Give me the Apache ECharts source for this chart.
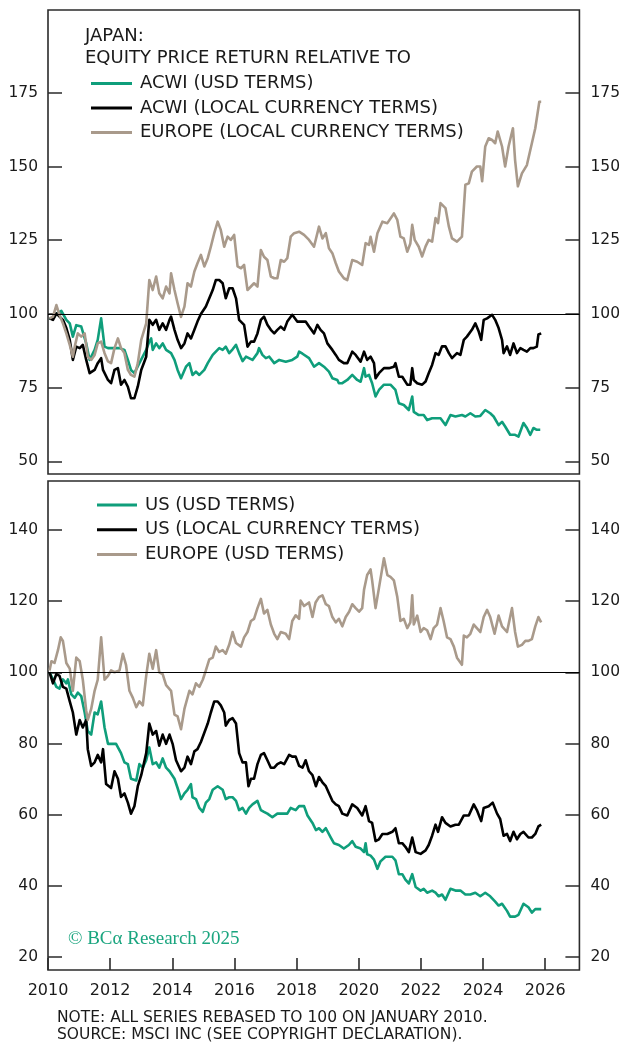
<!DOCTYPE html>
<html>
<head>
<meta charset="utf-8">
<script src="https://cdn.jsdelivr.net/npm/echarts@6/dist/echarts.min.js"></script>
<style>
html,body{margin:0;padding:0;background:#fff;}
#chart{width:623px;height:1044px;}
</style>
</head>
<body>
<div id="chart"></div>
<script>
// ---- tick labels ----
const topTicks = [50, 75, 100, 125, 150, 175];
const bottomTicks = [20, 40, 60, 80, 100, 120, 140];
const yearTicks = [2010, 2012, 2014, 2016, 2018, 2020, 2022, 2024, 2026];

// ---- series names ----
const topNames = ['ACWI (USD TERMS)', 'ACWI (LOCAL CURRENCY TERMS)', 'EUROPE (LOCAL CURRENCY TERMS)'];
const bottomNames = ['US (USD TERMS)', 'US (LOCAL CURRENCY TERMS)', 'EUROPE (USD TERMS)'];

// ---- top panel: Japan relative to ... [year, index] ----
const acwiUsd = [[2010.05,98.5],[2010.16,98.5],[2010.27,100],[2010.43,101],[2010.59,98],[2010.70,96.8],[2010.80,92.3],[2010.91,96.2],[2011.07,95.7],[2011.12,96.2],[2011.23,90.0],[2011.34,84.4],[2011.50,87.8],[2011.60,91.2],[2011.71,98.5],[2011.82,88.9],[2011.93,88.4],[2012.09,88.4],[2012.30,88.4],[2012.46,87.8],[2012.57,84.4],[2012.67,81.0],[2012.78,79.9],[2012.94,83.3],[2013.16,87.8],[2013.26,90.6],[2013.32,91.7],[2013.37,87.8],[2013.48,90.0],[2013.58,88.4],[2013.69,90.0],[2013.80,87.8],[2013.96,86.7],[2014.07,84.4],[2014.17,81.0],[2014.28,78.2],[2014.44,82.1],[2014.55,83.3],[2014.65,79.3],[2014.76,80.4],[2014.87,79.3],[2015.03,81.0],[2015.14,83.3],[2015.30,86.1],[2015.51,88.4],[2015.62,87.8],[2015.72,88.9],[2015.83,86.7],[2015.94,88.0],[2016.05,89.5],[2016.15,86.7],[2016.26,84.0],[2016.37,85.5],[2016.58,84.4],[2016.74,86.7],[2016.79,88.4],[2016.90,86.1],[2017.01,85.0],[2017.12,85.5],[2017.28,83.3],[2017.44,84.4],[2017.65,83.8],[2017.86,84.4],[2018.02,85.5],[2018.08,87.2],[2018.19,86.5],[2018.40,85.0],[2018.56,82.1],[2018.72,83.3],[2018.88,82.1],[2019.04,80.4],[2019.15,78.2],[2019.31,77.6],[2019.36,76.5],[2019.47,76.5],[2019.63,77.6],[2019.79,79.3],[2019.95,77.6],[2020.06,77.0],[2020.17,81.6],[2020.22,78.7],[2020.33,79.3],[2020.43,76.5],[2020.54,72.0],[2020.65,74.2],[2020.81,76.0],[2021.02,76.0],[2021.18,74.2],[2021.29,69.7],[2021.45,69.1],[2021.61,67.4],[2021.72,72.0],[2021.77,66.8],[2021.93,65.7],[2022.09,65.7],[2022.20,64.0],[2022.36,64.6],[2022.52,64.6],[2022.63,64.6],[2022.79,62.3],[2022.95,65.7],[2023.11,65.2],[2023.32,65.7],[2023.43,65.2],[2023.59,66.3],[2023.75,65.2],[2023.91,65.4],[2024.07,67.4],[2024.23,66.3],[2024.34,65.2],[2024.50,62.3],[2024.61,63.4],[2024.71,61.8],[2024.87,59.0],[2025.03,59.0],[2025.14,58.4],[2025.30,63.0],[2025.41,61.3],[2025.52,59.0],[2025.62,61.3],[2025.73,60.7],[2025.84,60.7]];

const acwiLocal = [[2010.05,98.5],[2010.16,98.0],[2010.27,100.2],[2010.37,99.1],[2010.48,98.0],[2010.59,95.2],[2010.70,91.2],[2010.80,84.4],[2010.91,88.9],[2011.02,88.4],[2011.12,89.5],[2011.23,84.4],[2011.34,79.9],[2011.50,81.0],[2011.60,83.3],[2011.71,85.0],[2011.77,81.0],[2011.93,77.6],[2012.03,76.5],[2012.14,81.0],[2012.25,81.6],[2012.35,76.0],[2012.46,77.6],[2012.57,75.3],[2012.67,71.4],[2012.78,71.4],[2012.89,75.4],[2013.00,81.0],[2013.16,85.5],[2013.26,98.0],[2013.37,96.3],[2013.48,98.0],[2013.58,94.6],[2013.69,96.8],[2013.80,94.6],[2013.91,98.0],[2013.96,99.1],[2014.07,94.6],[2014.17,91.2],[2014.28,88.4],[2014.39,90.0],[2014.49,93.4],[2014.60,91.7],[2014.71,94.6],[2014.81,97.4],[2014.92,100.0],[2015.08,102.5],[2015.19,105.3],[2015.30,108.1],[2015.40,111.5],[2015.51,111.5],[2015.62,110.4],[2015.72,105.3],[2015.83,108.7],[2015.94,108.7],[2016.05,105.3],[2016.15,98.0],[2016.31,96.3],[2016.42,88.9],[2016.53,90.6],[2016.63,90.6],[2016.74,93.4],[2016.85,98.0],[2016.95,99.1],[2017.06,96.3],[2017.17,94.6],[2017.28,93.4],[2017.38,94.6],[2017.49,95.7],[2017.60,94.6],[2017.70,97.4],[2017.86,99.7],[2018.02,97.4],[2018.13,97.4],[2018.29,97.4],[2018.40,95.7],[2018.56,93.4],[2018.67,96.3],[2018.77,94.6],[2018.88,93.4],[2018.99,90.0],[2019.15,87.8],[2019.26,86.1],[2019.36,84.4],[2019.52,83.3],[2019.63,83.3],[2019.79,87.2],[2019.90,86.1],[2020.06,83.8],[2020.17,87.2],[2020.27,84.4],[2020.38,85.5],[2020.49,83.3],[2020.54,78.2],[2020.65,79.9],[2020.81,81.6],[2020.97,81.6],[2021.13,82.1],[2021.18,83.3],[2021.29,78.7],[2021.40,78.7],[2021.56,76.0],[2021.66,76.0],[2021.72,81.6],[2021.77,77.6],[2021.88,76.5],[2022.04,76.0],[2022.15,77.1],[2022.25,79.9],[2022.36,82.7],[2022.47,86.7],[2022.57,86.1],[2022.68,89.0],[2022.79,89.0],[2022.90,86.7],[2023.00,85.0],[2023.16,86.7],[2023.27,86.1],[2023.38,91.2],[2023.48,92.3],[2023.64,94.6],[2023.75,96.8],[2023.86,94.0],[2023.94,91.2],[2024.02,98.0],[2024.13,98.5],[2024.29,99.7],[2024.39,98.0],[2024.50,95.2],[2024.61,91.2],[2024.66,86.7],[2024.77,89.0],[2024.87,86.1],[2024.98,90.0],[2025.09,86.7],[2025.20,88.4],[2025.30,87.8],[2025.41,87.2],[2025.52,88.4],[2025.62,88.4],[2025.73,88.9],[2025.78,93.0],[2025.87,93.4]];

const europeLocal = [[2010.05,98.5],[2010.16,99.1],[2010.27,103.0],[2010.37,99.7],[2010.48,96.8],[2010.59,93.4],[2010.70,89.5],[2010.80,85.5],[2010.86,88.9],[2010.96,93.4],[2011.07,92.3],[2011.18,93.4],[2011.28,85.5],[2011.39,84.4],[2011.50,86.1],[2011.60,90.0],[2011.71,90.6],[2011.82,86.7],[2011.93,83.9],[2012.03,83.3],[2012.14,88.4],[2012.25,91.7],[2012.35,88.4],[2012.46,86.7],[2012.57,81.0],[2012.67,79.3],[2012.78,78.7],[2012.89,83.3],[2013.00,91.2],[2013.16,96.8],[2013.26,111.5],[2013.37,108.1],[2013.48,112.7],[2013.58,107.0],[2013.69,105.3],[2013.80,109.3],[2013.91,107.0],[2013.96,113.8],[2014.07,108.1],[2014.17,103.6],[2014.28,99.0],[2014.39,102.5],[2014.49,110.4],[2014.60,109.3],[2014.71,114.4],[2014.81,117.2],[2014.92,120.0],[2015.03,116.1],[2015.14,118.9],[2015.24,122.8],[2015.35,127.4],[2015.46,131.3],[2015.56,128.5],[2015.67,122.8],[2015.78,126.2],[2015.88,125.1],[2015.99,126.8],[2016.10,116.1],[2016.21,115.5],[2016.31,116.6],[2016.42,108.1],[2016.53,109.3],[2016.63,110.4],[2016.74,109.3],[2016.85,121.7],[2016.95,119.4],[2017.06,118.3],[2017.17,112.7],[2017.28,112.1],[2017.38,112.1],[2017.49,118.3],[2017.60,117.7],[2017.70,118.9],[2017.81,126.2],[2017.92,127.4],[2018.08,127.9],[2018.24,126.8],[2018.40,125.1],[2018.56,122.8],[2018.72,129.6],[2018.83,125.6],[2018.94,127.4],[2019.04,122.3],[2019.15,120.6],[2019.26,117.2],[2019.36,114.4],[2019.52,112.1],[2019.63,111.5],[2019.79,118.3],[2019.95,117.7],[2020.11,116.6],[2020.22,124.0],[2020.33,123.4],[2020.38,126.2],[2020.49,121.1],[2020.60,127.4],[2020.76,131.3],[2020.92,130.8],[2021.13,134.1],[2021.24,131.9],[2021.34,126.2],[2021.45,125.6],[2021.56,121.1],[2021.66,123.9],[2021.72,130.2],[2021.80,125.1],[2021.93,122.8],[2022.04,119.5],[2022.15,122.9],[2022.25,125.1],[2022.36,124.5],[2022.47,132.5],[2022.55,130.8],[2022.63,137.6],[2022.79,135.9],[2022.90,129.6],[2023.00,125.6],[2023.16,124.5],[2023.32,126.2],[2023.43,143.8],[2023.54,144.3],[2023.64,148.3],[2023.80,150.0],[2023.91,150.0],[2023.97,145.0],[2024.07,156.8],[2024.18,159.6],[2024.29,159.0],[2024.39,157.9],[2024.47,161.9],[2024.61,156.8],[2024.71,150.0],[2024.82,156.8],[2024.87,156.2],[2024.96,163.0],[2025.03,152.2],[2025.12,143.3],[2025.25,147.7],[2025.41,150.5],[2025.57,157.9],[2025.68,163.0],[2025.73,163.5],[2025.81,172.0],[2025.87,172.0]];

// ---- bottom panel ----
const usUsd = [[2010.05,100],[2010.16,98.0],[2010.27,95.9],[2010.37,95.4],[2010.48,98.0],[2010.59,96.9],[2010.64,98.0],[2010.75,93.8],[2010.86,92.8],[2010.96,94.3],[2011.07,93.3],[2011.18,88.7],[2011.28,83.5],[2011.39,82.5],[2011.50,88.7],[2011.60,88.2],[2011.71,91.8],[2011.82,84.5],[2011.93,79.9],[2012.09,79.9],[2012.19,79.9],[2012.35,77.3],[2012.46,74.7],[2012.57,74.2],[2012.67,70.1],[2012.84,69.6],[2012.94,74.2],[2013.05,73.2],[2013.16,75.3],[2013.26,78.9],[2013.37,74.2],[2013.48,74.7],[2013.58,73.2],[2013.69,75.8],[2013.80,73.2],[2013.91,72.2],[2014.07,70.1],[2014.17,67.5],[2014.28,64.4],[2014.39,66.0],[2014.49,67.0],[2014.60,68.6],[2014.65,64.9],[2014.76,64.4],[2014.87,61.9],[2014.98,60.8],[2015.08,63.4],[2015.19,64.4],[2015.30,67.0],[2015.46,68.0],[2015.62,67.0],[2015.72,64.4],[2015.83,64.9],[2015.94,64.9],[2016.05,63.9],[2016.15,61.3],[2016.26,61.9],[2016.37,60.3],[2016.47,61.9],[2016.58,62.9],[2016.74,63.9],[2016.85,61.3],[2016.95,60.8],[2017.06,60.3],[2017.22,59.3],[2017.38,60.3],[2017.60,60.3],[2017.70,60.3],[2017.81,61.9],[2017.97,61.3],[2018.08,62.4],[2018.24,62.4],[2018.35,59.8],[2018.51,57.7],[2018.62,55.7],[2018.72,56.2],[2018.83,55.2],[2018.94,56.2],[2019.10,53.6],[2019.20,52.0],[2019.36,51.5],[2019.52,50.5],[2019.68,51.5],[2019.79,52.6],[2019.90,51.0],[2020.06,50.5],[2020.17,49.5],[2020.22,52.0],[2020.27,48.9],[2020.38,48.5],[2020.49,47.4],[2020.60,44.8],[2020.70,46.9],[2020.86,48.2],[2021.08,48.2],[2021.18,47.2],[2021.29,43.3],[2021.40,43.3],[2021.50,41.8],[2021.61,40.7],[2021.72,43.3],[2021.83,39.7],[2021.99,38.7],[2022.09,39.2],[2022.20,38.1],[2022.36,38.7],[2022.47,38.1],[2022.57,37.1],[2022.68,37.6],[2022.79,36.1],[2022.95,39.2],[2023.11,38.7],[2023.27,38.7],[2023.43,37.6],[2023.59,37.6],[2023.75,38.1],[2023.91,37.1],[2024.07,38.1],[2024.23,37.1],[2024.39,35.6],[2024.50,34.5],[2024.61,35.0],[2024.77,33.0],[2024.87,31.4],[2025.03,31.4],[2025.14,31.9],[2025.30,35.0],[2025.46,34.0],[2025.57,32.5],[2025.68,33.5],[2025.78,33.5],[2025.87,33.5]];

const usLocal = [[2010.05,100],[2010.16,96.9],[2010.27,99.5],[2010.37,99.0],[2010.48,95.9],[2010.59,95.4],[2010.70,91.8],[2010.80,88.7],[2010.91,82.5],[2011.02,86.6],[2011.12,84.5],[2011.23,86.6],[2011.28,78.4],[2011.39,73.7],[2011.50,74.7],[2011.60,76.8],[2011.71,74.7],[2011.77,78.4],[2011.87,68.6],[2012.03,67.5],[2012.14,72.2],[2012.25,70.1],[2012.35,65.0],[2012.46,66.0],[2012.57,63.4],[2012.67,60.3],[2012.78,62.4],[2012.89,68.0],[2013.00,71.1],[2013.16,77.3],[2013.26,85.6],[2013.37,82.5],[2013.48,83.5],[2013.58,79.4],[2013.69,82.5],[2013.80,79.9],[2013.91,82.5],[2014.01,79.9],[2014.12,75.3],[2014.28,72.2],[2014.39,73.2],[2014.49,76.3],[2014.60,74.2],[2014.71,77.8],[2014.81,78.4],[2014.92,80.4],[2015.03,83.0],[2015.14,85.6],[2015.24,88.7],[2015.35,91.8],[2015.46,91.8],[2015.56,90.7],[2015.67,88.7],[2015.72,85.0],[2015.83,86.6],[2015.94,87.1],[2016.05,85.6],[2016.15,77.3],[2016.26,74.7],[2016.37,74.7],[2016.45,68.0],[2016.53,70.1],[2016.63,70.1],[2016.74,74.2],[2016.85,76.8],[2016.95,77.3],[2017.06,75.3],[2017.17,73.2],[2017.28,73.2],[2017.38,74.2],[2017.49,74.7],[2017.60,74.2],[2017.76,76.8],[2017.86,76.3],[2017.97,76.3],[2018.08,73.7],[2018.19,73.2],[2018.29,75.3],[2018.40,72.2],[2018.51,71.1],[2018.62,68.0],[2018.72,70.6],[2018.83,69.1],[2018.94,68.0],[2019.04,66.0],[2019.15,63.9],[2019.26,62.9],[2019.36,62.4],[2019.47,60.3],[2019.63,59.8],[2019.79,62.9],[2019.95,61.9],[2020.11,59.8],[2020.22,62.4],[2020.33,58.2],[2020.43,57.7],[2020.54,52.6],[2020.65,53.1],[2020.76,54.6],[2020.92,54.6],[2021.08,55.2],[2021.18,56.2],[2021.29,52.0],[2021.40,52.0],[2021.50,51.0],[2021.61,49.5],[2021.72,53.6],[2021.83,49.5],[2021.99,49.0],[2022.15,50.0],[2022.25,51.5],[2022.36,54.1],[2022.47,57.2],[2022.55,55.2],[2022.68,59.3],[2022.79,57.7],[2022.95,56.7],[2023.11,57.2],[2023.22,57.2],[2023.38,59.8],[2023.54,59.8],[2023.70,62.9],[2023.80,61.3],[2023.94,58.2],[2024.02,61.9],[2024.18,62.4],[2024.31,63.4],[2024.45,60.3],[2024.55,58.8],[2024.66,54.1],[2024.77,54.6],[2024.87,52.6],[2024.98,55.2],[2025.09,53.1],[2025.20,54.6],[2025.30,55.2],[2025.46,53.6],[2025.57,53.6],[2025.68,54.6],[2025.73,54.6],[2025.78,56.7],[2025.87,57.2]];

const europeUsd = [[2010.05,100.5],[2010.11,103.1],[2010.21,102.6],[2010.32,106.2],[2010.41,109.8],[2010.48,108.8],[2010.59,102.6],[2010.70,101.0],[2010.80,94.8],[2010.91,104.1],[2011.02,103.1],[2011.12,97.9],[2011.23,89.2],[2011.28,86.6],[2011.39,89.7],[2011.50,94.8],[2011.60,97.9],[2011.71,109.8],[2011.82,97.9],[2011.93,99.0],[2012.03,100.5],[2012.14,100.0],[2012.30,100.5],[2012.41,105.2],[2012.51,102.1],[2012.62,94.8],[2012.73,92.8],[2012.84,90.2],[2012.94,91.8],[2013.05,90.7],[2013.16,99.0],[2013.26,105.2],[2013.37,101.0],[2013.48,106.2],[2013.58,100.0],[2013.69,99.5],[2013.80,96.4],[2013.96,94.8],[2014.07,88.1],[2014.17,87.6],[2014.28,84.0],[2014.39,89.7],[2014.55,94.8],[2014.65,93.8],[2014.76,96.9],[2014.87,95.9],[2014.98,97.9],[2015.08,100.5],[2015.19,103.6],[2015.30,104.1],[2015.40,107.2],[2015.51,105.7],[2015.62,106.2],[2015.72,105.2],[2015.83,107.7],[2015.94,111.3],[2016.05,108.2],[2016.21,107.2],[2016.31,109.8],[2016.42,111.3],[2016.53,114.4],[2016.63,115.0],[2016.74,118.0],[2016.85,120.6],[2016.95,116.5],[2017.06,117.5],[2017.17,113.4],[2017.28,110.8],[2017.38,109.3],[2017.49,111.3],[2017.65,110.8],[2017.76,109.3],[2017.86,114.4],[2017.97,116.0],[2018.08,115.0],[2018.13,120.1],[2018.24,118.6],[2018.40,119.6],[2018.51,115.5],[2018.61,119.6],[2018.72,121.1],[2018.83,121.6],[2018.94,119.1],[2019.04,118.6],[2019.15,115.5],[2019.26,114.0],[2019.36,115.0],[2019.47,112.9],[2019.58,115.5],[2019.69,117.0],[2019.79,119.1],[2019.90,118.0],[2020.01,117.0],[2020.11,118.0],[2020.17,123.2],[2020.27,127.3],[2020.38,128.9],[2020.43,125.8],[2020.54,118.0],[2020.65,123.7],[2020.81,132.0],[2020.92,127.3],[2021.02,126.8],[2021.13,125.8],[2021.24,121.1],[2021.34,114.4],[2021.45,115.0],[2021.56,112.4],[2021.66,114.0],[2021.72,121.6],[2021.77,113.4],[2021.88,115.9],[2021.99,111.3],[2022.09,112.4],[2022.20,111.8],[2022.31,109.3],[2022.41,112.4],[2022.52,113.4],[2022.63,118.0],[2022.73,114.4],[2022.84,109.8],[2022.95,109.3],[2023.06,107.2],[2023.16,104.1],[2023.22,104.6],[2023.32,102.1],[2023.38,110.3],[2023.48,109.8],[2023.59,110.8],[2023.70,113.4],[2023.80,112.4],[2023.91,111.3],[2024.02,115.5],[2024.13,117.5],[2024.23,115.5],[2024.37,110.8],[2024.50,115.9],[2024.61,112.9],[2024.77,111.3],[2024.93,118.0],[2025.03,111.3],[2025.12,107.2],[2025.25,107.7],[2025.36,108.8],[2025.46,108.8],[2025.57,109.3],[2025.68,112.9],[2025.78,115.5],[2025.87,114.0]];

// ---- styling ----
const GREEN = '#0f9e7b';
const BLACK = '#000000';
const TAN = '#a99a8b';
const TEXT = '#1a1a1a';
const FONT = '"DejaVu Sans", "Open Sans", sans-serif';
const FRAME = '#2b2b2b';

const chart = echarts.init(document.getElementById('chart'), null, {renderer: 'canvas'});

function yAxisDef(gridIndex, pos, min, max, ticks) {
  return {
    type: 'value', gridIndex: gridIndex, position: pos, min: min, max: max,
    axisLine: {show: false},
    splitLine: {show: false},
    axisTick: {show: true, inside: true, length: 14, customValues: ticks,
      lineStyle: {color: FRAME, width: 1.5}},
    axisLabel: {show: true, customValues: ticks, margin: pos === 'left' ? 10 : 11,
      color: TEXT, fontFamily: FONT, fontSize: 15.5,
      formatter: v => String(v)}
  };
}

function lineSeries(name, data, color, xi, yi, refLine) {
  const s = {
    name: name, type: 'line', data: data, xAxisIndex: xi, yAxisIndex: yi,
    showSymbol: false, symbol: 'none', smooth: false, animation: false,
    lineStyle: {color: color, width: 2.6, join: 'round'},
    itemStyle: {color: color}
  };
  if (refLine) {
    s.markLine = {
      silent: true, symbol: ['none', 'none'], animation: false,
      label: {show: false},
      lineStyle: {color: '#000', width: 1.2, type: 'solid'},
      data: [{yAxis: 100}]
    };
  }
  return s;
}

const legendText = {color: TEXT, fontFamily: FONT, fontSize: 18, lineHeight: 20, padding: [0, 0, 0, 3]};

const option = {
  backgroundColor: '#ffffff',
  animation: false,
  grid: [
    {left: 48, width: 533, top: 10, height: 464, show: true, borderColor: FRAME, borderWidth: 1.6, backgroundColor: 'transparent'},
    {left: 48, width: 533, top: 481, height: 489, show: true, borderColor: FRAME, borderWidth: 1.6, backgroundColor: 'transparent'}
  ],
  xAxis: [
    {type: 'value', gridIndex: 0, min: 2010, max: 2027.1,
      axisLine: {show: false}, axisTick: {show: false}, axisLabel: {show: false}, splitLine: {show: false}},
    {type: 'value', gridIndex: 1, min: 2010, max: 2027.1,
      axisLine: {show: false}, splitLine: {show: false},
      axisTick: {show: true, inside: true, length: 12, customValues: yearTicks, lineStyle: {color: FRAME, width: 1.6}},
      axisLabel: {show: true, customValues: yearTicks, margin: 13, color: TEXT, fontFamily: FONT,
        fontSize: 16, formatter: v => String(v)}}
  ],
  yAxis: [
    yAxisDef(0, 'left', 45.7, 203.1, topTicks),
    yAxisDef(0, 'right', 45.7, 203.1, topTicks),
    yAxisDef(1, 'left', 16.4, 153.7, bottomTicks),
    yAxisDef(1, 'right', 16.4, 153.7, bottomTicks)
  ],
  legend: [
    {data: topNames, orient: 'vertical', left: 86, top: 68.5, itemWidth: 41, itemHeight: 3, itemGap: 4.5,
      icon: 'rect', textStyle: legendText, selectedMode: false},
    {data: bottomNames, orient: 'vertical', left: 92, top: 490, itemWidth: 40, itemHeight: 3, itemGap: 4.8,
      icon: 'rect', textStyle: legendText, selectedMode: false}
  ],
  graphic: [
    {type: 'text', left: 85, top: 27, style: {text: 'JAPAN:', fill: TEXT, font: '18px ' + FONT}},
    {type: 'text', left: 85, top: 49, style: {text: 'EQUITY PRICE RETURN RELATIVE TO', fill: TEXT, font: '18px ' + FONT}},
    {type: 'text', left: 68, top: 930, style: {text: '© BCα Research 2025', fill: '#1aa57f', font: '19px "Liberation Serif", "DejaVu Serif", serif'}},
    {type: 'text', left: 57, top: 1010, style: {text: 'NOTE: ALL SERIES REBASED TO 100 ON JANUARY 2010.', fill: TEXT, font: '15.5px ' + FONT}},
    {type: 'text', left: 57, top: 1027, style: {text: 'SOURCE: MSCI INC (SEE COPYRIGHT DECLARATION).', fill: TEXT, font: '15.5px ' + FONT}}
  ],
  series: [
    lineSeries(topNames[0], acwiUsd, GREEN, 0, 0, true),
    lineSeries(topNames[1], acwiLocal, BLACK, 0, 0, false),
    lineSeries(topNames[2], europeLocal, TAN, 0, 0, false),
    lineSeries(bottomNames[0], usUsd, GREEN, 1, 2, true),
    lineSeries(bottomNames[1], usLocal, BLACK, 1, 2, false),
    lineSeries(bottomNames[2], europeUsd, TAN, 1, 2, false)
  ]
};

chart.setOption(option);
</script>
</body>
</html>
